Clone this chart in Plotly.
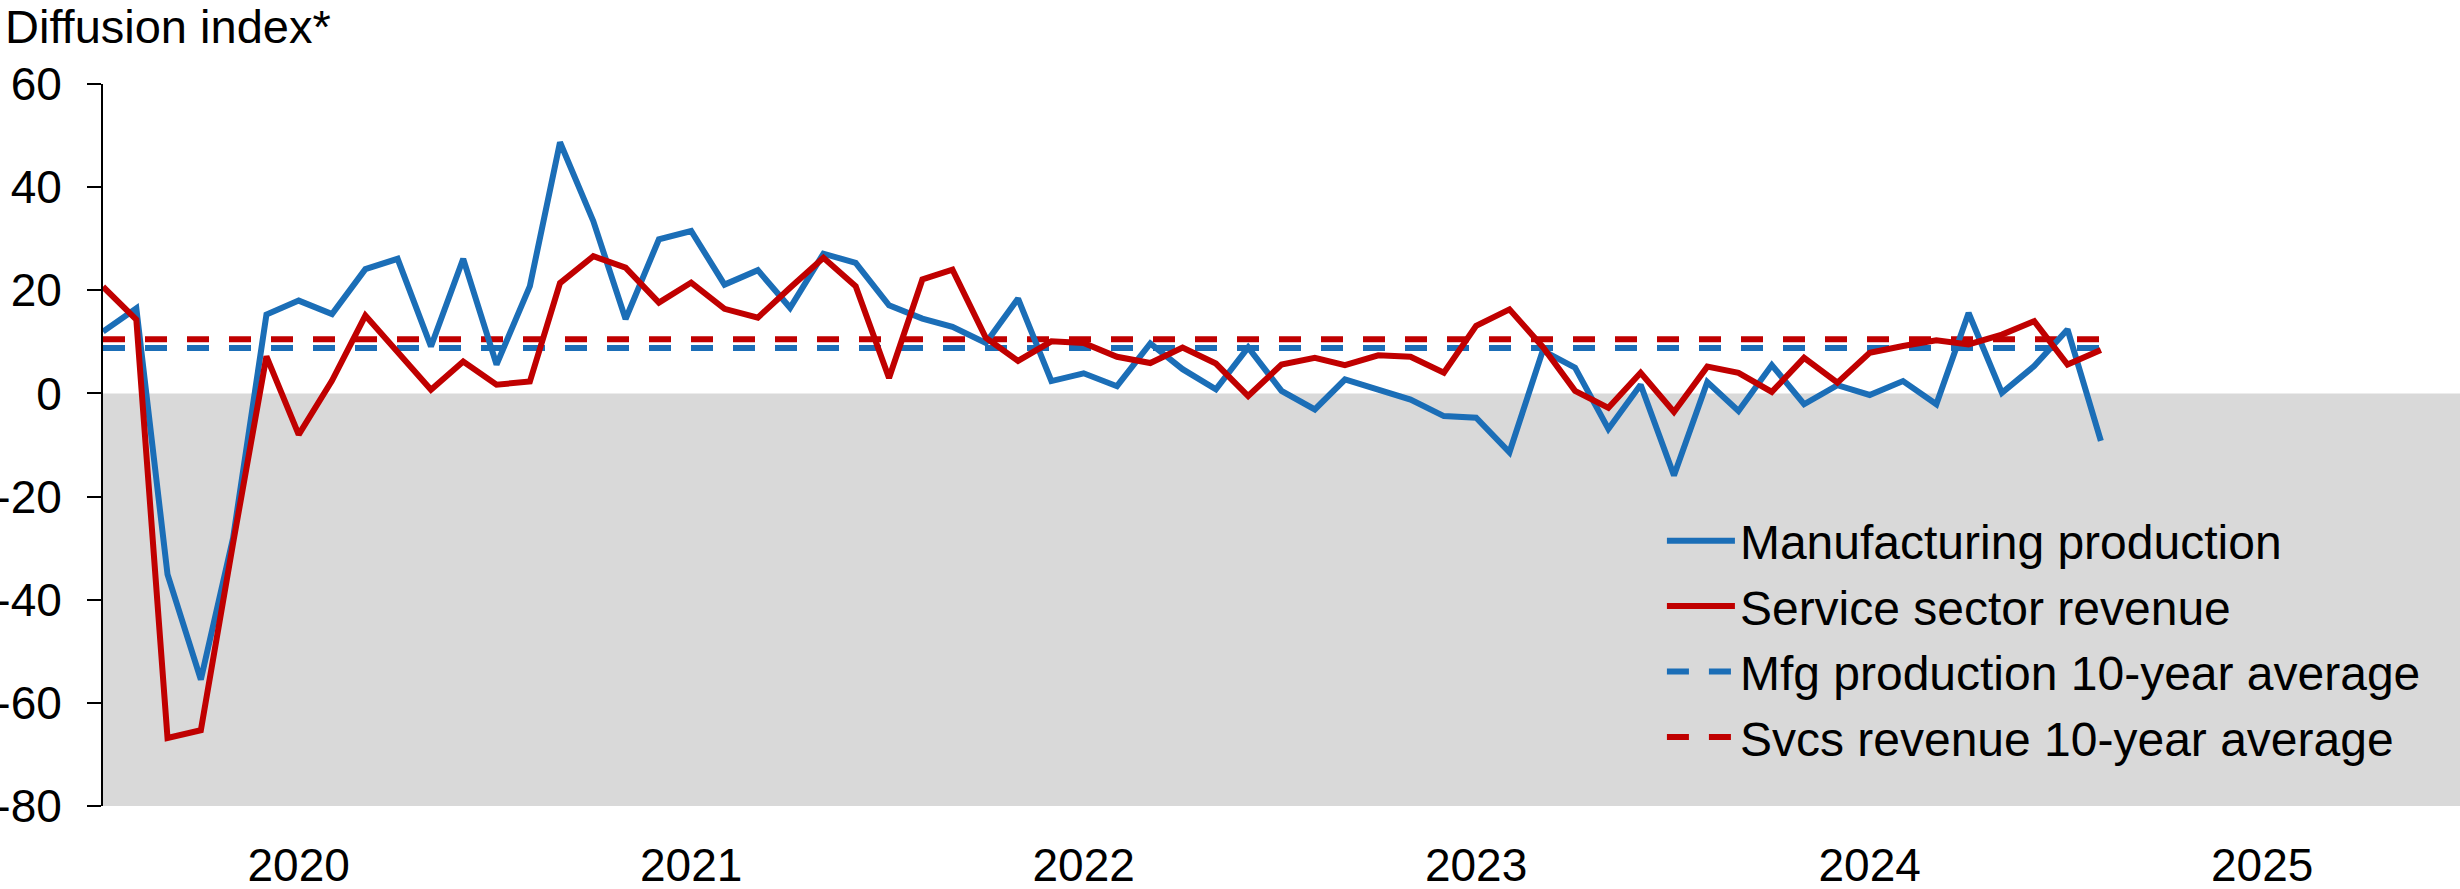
import pandas as pd
import plotly.graph_objects as go

# Monthly diffusion indexes, Jan 2020 - Feb 2025
MONTHS = pd.date_range("2020-01-01", periods=62, freq="MS")
MFG_PRODUCTION = [12.0, 16.5, -35.1, -55.5, -28.0, 15.3, 18.0, 15.4, 24.1, 26.1, 9.1, 26.1,
                  5.6, 20.8, 48.7, 33.4, 14.4, 29.9, 31.5, 21.1, 23.9, 16.6, 27.1, 25.3,
                  17.1, 14.5, 12.9, 9.8, 18.4, 2.4, 3.9, 1.4, 9.7, 4.7, 0.8, 8.9,
                  0.5, -3.1, 2.7, 0.6, -1.2, -4.4, -4.7, -11.4, 8.3, 5.0, -6.9, 1.7,
                  -15.9, 2.2, -3.4, 5.5, -2.1, 1.6, -0.3, 2.4, -2.1, 15.6, 0.1, 5.3,
                  12.4, -9.2]
SVC_REVENUE = [20.7, 14.3, -66.8, -65.3, -29.0, 7.2, -8.0, 2.5, 15.1, 8.1, 0.7, 6.2,
               1.7, 2.3, 21.4, 26.6, 24.4, 17.6, 21.5, 16.4, 14.7, 20.5, 26.3, 20.8,
               3.0, 22.1, 24.0, 10.8, 6.3, 10.1, 9.8, 7.1, 5.9, 8.9, 5.8, -0.5,
               5.6, 6.9, 5.5, 7.4, 7.1, 4.0, 13.1, 16.3, 9.0, 0.5, -2.8, 4.0,
               -3.6, 5.2, 4.0, 0.3, 6.9, 2.1, 7.9, 9.2, 10.3, 9.5, 11.4, 14.0,
               5.6, 8.4]
MFG_AVG = 8.8
SVC_AVG = 10.5

YEARS = [2020, 2021, 2022, 2023, 2024, 2025]
Y_TICKS = [60, 40, 20, 0, -20, -40, -60, -80]

BLUE = "#1B6EB7"
RED = "#C00000"
FONT = "Arial, Liberation Sans, sans-serif"
X_RANGE = ["2020-01-01", "2026-01-01"]

fig = go.Figure()
fig.add_trace(go.Scatter(x=MONTHS, y=[MFG_AVG] * len(MONTHS), mode="lines",
                         name="Mfg production 10-year average", legendrank=3,
                         line=dict(color=BLUE, width=6, dash="22px,20px")))
fig.add_trace(go.Scatter(x=MONTHS, y=[SVC_AVG] * len(MONTHS), mode="lines",
                         name="Svcs revenue 10-year average", legendrank=4,
                         line=dict(color=RED, width=6, dash="22px,20px")))
fig.add_trace(go.Scatter(x=MONTHS, y=MFG_PRODUCTION, mode="lines",
                         name="Manufacturing production", legendrank=1,
                         line=dict(color=BLUE, width=6)))
fig.add_trace(go.Scatter(x=MONTHS, y=SVC_REVENUE, mode="lines",
                         name="Service sector revenue", legendrank=2,
                         line=dict(color=RED, width=6)))

# grey shading for the contraction half
fig.add_shape(type="rect", xref="paper", yref="y", x0=0, x1=1, y0=-80, y1=0,
              fillcolor="#D9D9D9", line_width=0, layer="below")

fig.add_annotation(text="Diffusion index*", xref="paper", yref="paper",
                   x=-0.0425, y=1.079, xanchor="left", yanchor="middle",
                   showarrow=False, font=dict(size=47, color="black", family=FONT))

fig.update_layout(
    width=2460, height=889,
    margin=dict(l=103, r=0, t=84, b=83, autoexpand=False),
    plot_bgcolor="white", paper_bgcolor="white",
    font=dict(family=FONT, size=46, color="black"),
    showlegend=True,
    legend=dict(x=0.6614, y=0.4197, xanchor="left", yanchor="top",
                bgcolor="rgba(0,0,0,0)", font=dict(size=48),
                tracegroupgap=0, itemwidth=68),
    xaxis=dict(type="date", range=X_RANGE, showgrid=False, zeroline=False,
               showline=False, ticks="", automargin=False,
               tickvals=[f"{y}-07-01" for y in YEARS],
               ticktext=[str(y) for y in YEARS],
               ticklabelstandoff=28),
    xaxis2=dict(type="date", range=X_RANGE, overlaying="x", anchor="free",
                position=80 / 140, showgrid=False, zeroline=False,
                showline=True, linecolor="#595959", linewidth=2.5,
                ticks="outside", ticklen=14, tickwidth=2.5, tickcolor="#404040",
                tickvals=[f"{y}-01-01" for y in YEARS[1:]],
                showticklabels=False, layer="below traces", automargin=False),
    yaxis=dict(range=[-80, 60], showgrid=False, zeroline=False,
               showline=True, linecolor="black", linewidth=2,
               ticks="outside", ticklen=14, tickwidth=2, tickcolor="black",
               tickvals=Y_TICKS, ticktext=[str(v) for v in Y_TICKS],
               ticklabelstandoff=16, automargin=False),
)

# the page body has a default 8px margin; drop it so the figure fills the window
fig.write_html("out.html", config={"displayModeBar": False},
               post_script="document.body.style.margin='0';")
